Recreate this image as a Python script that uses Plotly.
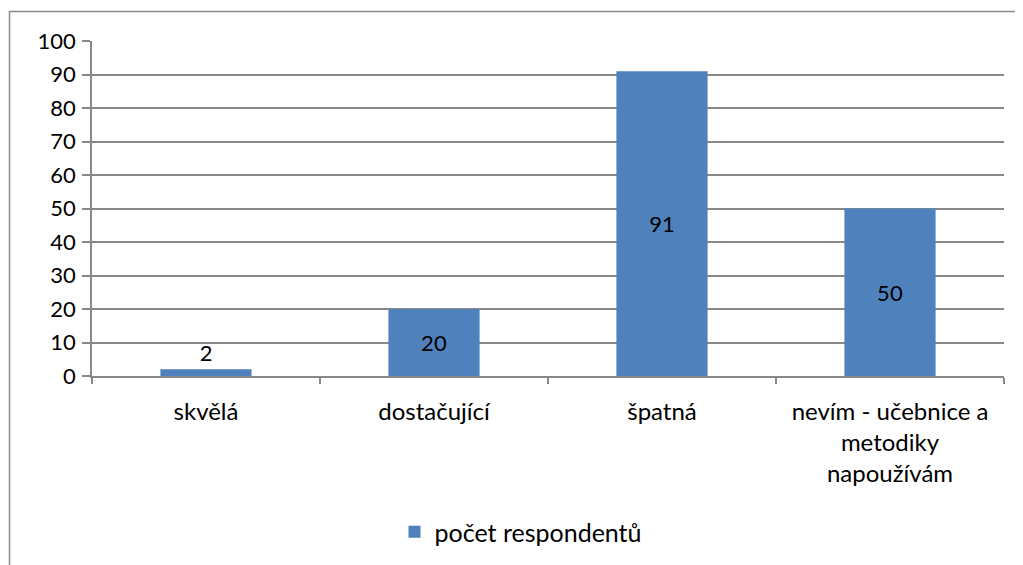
import plotly.graph_objects as go

# data
categories = ["skvělá", "dostačující", "špatná", "nevím - učebnice a<br>metodiky<br>napoužívám"]
values = [2, 20, 91, 50]
series_name = "počet respondentů"
y_ticks = list(range(0, 101, 10))

# stránka má okraj 8 px, proto je vše posunuto
OFF = 8
W, H = 1023, 565
pw, ph = 912, 335
L, T = 92 - OFF, 41 - OFF
R, B = W - L - pw, H - T - ph

fig = go.Figure()

fig.add_trace(go.Bar(
    x=categories,
    y=values,
    name=series_name,
    width=0.4,
    marker=dict(color="#4F81BD", line=dict(width=0)),
    text=[str(v) for v in values],
    textposition=["outside", "inside", "inside", "inside"],
    insidetextanchor="middle",
    textfont=dict(color="black", size=22),
    outsidetextfont=dict(color="black", size=22),
    insidetextfont=dict(color="black", size=22),
    cliponaxis=False,
    showlegend=True,
))

# rámeček kolem celého grafu
fig.add_shape(
    type="rect", xref="paper", yref="paper",
    x0=(9.5 - OFF - L) / pw, x1=1.1,
    y0=-0.7, y1=1 + (T - (11.5 - OFF)) / ph,
    line=dict(color="#8c8c8c", width=1.5),
    fillcolor="rgba(0,0,0,0)",
)

fig.update_layout(
    width=W, height=H,
    margin=dict(l=L, r=R, t=T, b=B, autoexpand=False),
    plot_bgcolor="white",
    paper_bgcolor="white",
    font=dict(family="Lato", size=22, color="black"),
    bargap=0.6,
    showlegend=True,
    legend=dict(
        orientation="h",
        x=(521 - 92) / pw, xanchor="center",
        y=(376 - 532) / ph, yanchor="middle",
        font=dict(size=25),
        itemwidth=30,
    ),
    xaxis=dict(
        showline=True, linecolor="#888888", linewidth=1.5,
        ticks="outside", ticklen=6, tickcolor="#888888", tickwidth=1.5,
        tickson="boundaries",
        showgrid=False,
        tickfont=dict(size=24),
        ticklabelstandoff=13,
    ),
    yaxis=dict(
        range=[0, 100],
        tickvals=y_ticks,
        showline=True, linecolor="#888888", linewidth=1.5,
        ticks="outside", ticklen=8, tickcolor="#888888", tickwidth=1.5,
        showgrid=True, gridcolor="#888888", gridwidth=1.5,
        zeroline=False,
        ticklabelstandoff=2,
    ),
)

fig.write_html("out.html")
